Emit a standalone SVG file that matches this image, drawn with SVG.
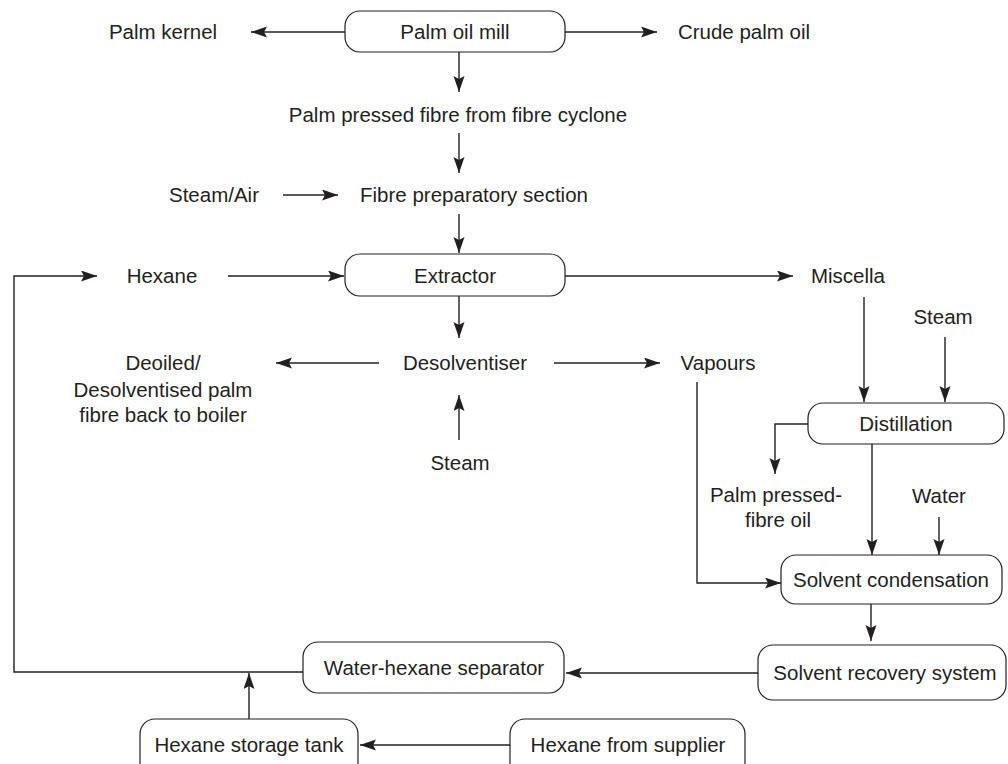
<svg xmlns="http://www.w3.org/2000/svg" width="1008" height="764" viewBox="0 0 1008 764">
<style>
text{font-family:"Liberation Sans",Arial,sans-serif;font-size:20.5px;fill:#231f20;text-anchor:middle}
.box{fill:#fff;stroke:#231f20;stroke-width:1.2}
.c{fill:none;stroke:#231f20;stroke-width:1.4}
</style>
<defs>
<marker id="ah" markerUnits="userSpaceOnUse" markerWidth="17" markerHeight="12" refX="16" refY="5.5" orient="auto">
<path d="M0,0 L16,5.5 L0,11 L3,5.5 z" fill="#231f20"/>
</marker>
</defs>
<rect width="1008" height="764" fill="#fff"/>
<g id="connectors">
<line class="c" x1="345" y1="32" x2="251" y2="32" marker-end="url(#ah)"/>
<line class="c" x1="565" y1="32" x2="657" y2="32" marker-end="url(#ah)"/>
<line class="c" x1="459" y1="52" x2="459" y2="92" marker-end="url(#ah)"/>
<line class="c" x1="459" y1="133" x2="459" y2="173" marker-end="url(#ah)"/>
<line class="c" x1="283" y1="195" x2="338" y2="195" marker-end="url(#ah)"/>
<line class="c" x1="459" y1="214" x2="459" y2="253" marker-end="url(#ah)"/>
<line class="c" x1="228" y1="276" x2="344" y2="276" marker-end="url(#ah)"/>
<polyline class="c" points="303,672 14,672 14,276 97,276" marker-end="url(#ah)"/>
<line class="c" x1="565" y1="276" x2="793" y2="276" marker-end="url(#ah)"/>
<line class="c" x1="459" y1="296" x2="459" y2="338" marker-end="url(#ah)"/>
<line class="c" x1="379" y1="363" x2="276" y2="363" marker-end="url(#ah)"/>
<line class="c" x1="554" y1="363" x2="660" y2="363" marker-end="url(#ah)"/>
<line class="c" x1="459" y1="440" x2="459" y2="395" marker-end="url(#ah)"/>
<polyline class="c" points="697,382 697,583 781,583" marker-end="url(#ah)"/>
<line class="c" x1="864" y1="297" x2="864" y2="402" marker-end="url(#ah)"/>
<line class="c" x1="945" y1="337" x2="945" y2="402" marker-end="url(#ah)"/>
<polyline class="c" points="808,424 775,424 775,474" marker-end="url(#ah)"/>
<line class="c" x1="872" y1="444" x2="872" y2="555" marker-end="url(#ah)"/>
<line class="c" x1="939" y1="517" x2="939" y2="555" marker-end="url(#ah)"/>
<line class="c" x1="871" y1="604" x2="871" y2="641" marker-end="url(#ah)"/>
<line class="c" x1="758" y1="673" x2="566" y2="673" marker-end="url(#ah)"/>
<line class="c" x1="249" y1="719" x2="249" y2="673" marker-end="url(#ah)"/>
<line class="c" x1="510" y1="745" x2="360" y2="745" marker-end="url(#ah)"/>
</g>
<g id="palm-oil-mill"><rect class="box" x="345" y="11" width="220" height="41" rx="15"/><text x="455" y="39">Palm oil mill</text></g>
<g id="palm-kernel"><text x="163" y="39">Palm kernel</text></g>
<g id="crude-palm-oil"><text x="744" y="39">Crude palm oil</text></g>
<g id="pressed-fibre"><text x="458" y="122">Palm pressed fibre from fibre cyclone</text></g>
<g id="steam-air"><text x="214" y="202">Steam/Air</text></g>
<g id="fibre-prep"><text x="474" y="202">Fibre preparatory section</text></g>
<g id="hexane"><text x="162" y="283">Hexane</text></g>
<g id="extractor"><rect class="box" x="345" y="254" width="220" height="42" rx="15"/><text x="455" y="283">Extractor</text></g>
<g id="miscella"><text x="848" y="283">Miscella</text></g>
<g id="steam-right"><text x="943" y="324">Steam</text></g>
<g id="desolventiser"><text x="465" y="370">Desolventiser</text></g>
<g id="deoiled"><text x="163" y="370">Deoiled/</text><text x="163" y="397">Desolventised palm</text><text x="163" y="422">fibre back to boiler</text></g>
<g id="vapours"><text x="718" y="370">Vapours</text></g>
<g id="steam-bottom"><text x="460" y="470">Steam</text></g>
<g id="distillation"><rect class="box" x="808" y="403" width="196" height="41" rx="15"/><text x="906" y="431">Distillation</text></g>
<g id="pressed-fibre-oil"><text x="776" y="502">Palm pressed-</text><text x="778" y="527">fibre oil</text></g>
<g id="water"><text x="939" y="503">Water</text></g>
<g id="solvent-condensation"><rect class="box" x="781" y="555" width="221" height="49" rx="15"/><text x="891" y="587">Solvent condensation</text></g>
<g id="solvent-recovery"><rect class="box" x="758" y="645" width="248" height="55" rx="15"/><text x="885" y="680">Solvent recovery system</text></g>
<g id="water-hexane-separator"><rect class="box" x="303" y="642" width="261" height="51" rx="15"/><text x="434" y="675">Water-hexane separator</text></g>
<g id="hexane-storage"><rect class="box" x="140" y="719" width="218" height="60" rx="15"/><text x="249" y="752">Hexane storage tank</text></g>
<g id="hexane-supplier"><rect class="box" x="510" y="719" width="235" height="60" rx="15"/><text x="628" y="752">Hexane from supplier</text></g>
</svg>
